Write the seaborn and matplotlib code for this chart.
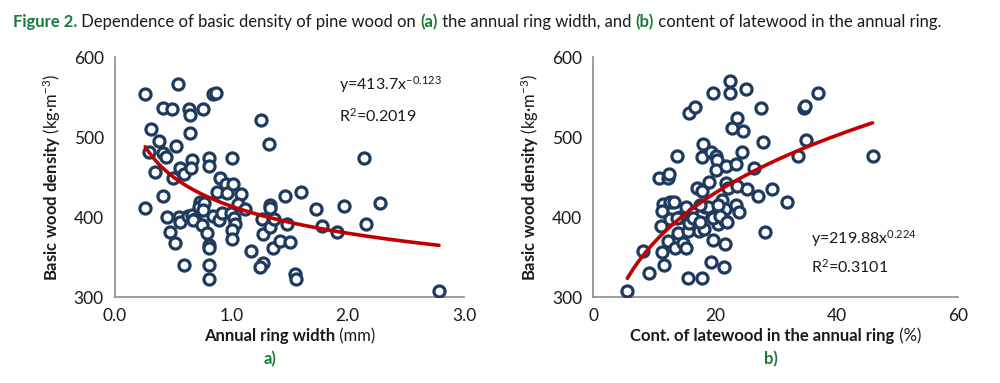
import numpy as np
import pandas as pd
import matplotlib
matplotlib.use("Agg")
import matplotlib.pyplot as plt
import seaborn as sns

# ---------------- data ----------------
ring_width = [0.26, 0.26, 0.31, 0.29, 0.345, 0.38, 0.415, 0.49, 0.41, 0.44, 0.41, 0.445, 0.47, 0.515,
              0.495, 0.525, 0.545, 0.56, 0.595, 0.55, 0.56, 0.595, 0.64, 0.645, 0.645, 0.66, 0.655,
              0.625, 0.66, 0.685, 0.67, 0.76, 0.73, 0.725, 0.765, 0.76, 0.745, 0.795, 0.81, 0.81,
              0.805, 0.81, 0.805, 0.81, 0.84, 0.87, 0.845, 0.875, 0.89, 0.90, 0.92, 0.955, 0.965,
              1.01, 1.015, 1.0, 1.02, 1.035, 1.01, 1.01, 1.08, 1.06, 1.12, 1.17, 1.255, 1.26, 1.27,
              1.27, 1.25, 1.32, 1.335, 1.335, 1.33, 1.365, 1.36, 1.415, 1.46, 1.48, 1.50, 1.55,
              1.56, 1.60, 1.73, 1.78, 1.91, 1.97, 2.14, 2.16, 2.28, 2.785]
density_a = [554, 412, 510, 481, 457, 495, 537, 536, 480, 475, 426, 400, 382, 368,
             449, 489, 567, 462, 454, 400, 394, 340, 535, 528, 506, 471, 461,
             401, 403, 398, 396, 536, 419, 413, 418, 409, 390, 380, 365, 362,
             474, 464, 340, 323, 554, 556, 401, 432, 396, 449, 405, 441, 430,
             474, 441, 405, 399, 391, 384, 373, 429, 417, 410, 357, 522, 398, 379,
             343, 337, 492, 415, 411, 388, 398, 361, 370, 426, 391, 369, 329,
             323, 432, 410, 389, 382, 414, 474, 392, 418, 308]

latewood = [5.6, 8.1, 9.1, 10.8, 12.3, 12.4, 11.5, 11.3, 11.1, 11.3, 11.7, 12.6, 13.2, 12.6, 12.3,
            13.4, 13.8, 14.0, 14.2, 14.8, 15.3, 15.3, 15.5, 15.8, 15.7, 16.7, 15.6, 17.0, 16.4,
            17.4, 17.8, 18.1, 17.8, 17.8, 18.2, 17.8, 18.4, 19.0, 19.4, 19.7, 19.3, 20.1, 20.3,
            20.1, 19.7, 19.3, 20.5, 20.5, 21.2, 21.8, 21.8, 21.7, 21.7, 21.6, 21.5, 22.4, 22.4,
            22.2, 22.8, 23.6, 23.5, 23.6, 23.4, 23.9, 24.6, 24.5, 25.1, 25.3, 26.4, 27.1, 27.5,
            27.9, 28.2, 29.3, 31.9, 33.6, 34.6, 34.8, 35.0, 36.9, 45.9,
            13.7, 16.4, 17.5, 18.9, 20.5, 19.7, 20.8, 21.9, 17.5]
density_b = [308, 358, 330, 449, 449, 454, 416, 408, 389, 356, 340, 419, 419, 398, 370,
             362, 476, 380, 400, 368, 413, 362, 383, 393, 531, 538, 324, 436, 405,
             383, 433, 491, 475, 405, 385, 324, 413, 444, 411, 556, 482, 476, 472,
             459, 372, 344, 402, 391, 421, 443, 464, 410, 395, 366, 337, 570, 556,
             437, 512, 524, 466, 439, 415, 406, 508, 482, 560, 435, 462, 426, 537,
             494, 381, 435, 419, 476, 537, 539, 497, 556, 476,
             399, 399, 394, 413, 415, 399, 401, 394, 415]

# trend line equations as printed on the chart
fit_a = (413.7, -0.123)
fit_b = (219.88, 0.224)
range_a = (0.26, 2.785)
range_b = (5.6, 45.9)

x_ticks_a = [0.0, 1.0, 2.0, 3.0]
x_ticks_b = [0, 20, 40, 60]
y_ticks = [300, 400, 500, 600]

# ---------------- style ----------------
sns.set_theme(style="white")
FONT = "Lato"
plt.rcParams["font.family"] = [FONT, "DejaVu Sans"]
plt.rcParams["mathtext.fontset"] = "custom"
plt.rcParams["mathtext.rm"] = FONT
plt.rcParams["mathtext.bf"] = FONT + ":bold"
plt.rcParams["mathtext.it"] = FONT + ":italic"

GREEN = "#1b7a3c"
NAVY = "#1f3a5f"
RED = "#c00000"
SPINE = "#8c8c8c"
TXT = "#1a1a1a"

fig = plt.figure(figsize=(10, 3.83), dpi=100)
ax_a = fig.add_axes([0.115, 0.2245, 0.349, 0.6255])
ax_b = fig.add_axes([0.5933, 0.2245, 0.365, 0.6255])
renderer = fig.canvas.get_renderer()

df_a = pd.DataFrame({"x": ring_width, "y": density_a})
df_b = pd.DataFrame({"x": latewood, "y": density_b})


def pieces_text(xc, y, parts, size, ha_center=True):
    """Place a row of text pieces (text, colour, weight) centred at xc (figure coords)."""
    objs = []
    total = 0.0
    for txt, col, wt in parts:
        t = fig.text(0, y, txt, fontsize=size, color=col, fontweight=wt, va="center", ha="left")
        w = t.get_window_extent(renderer=renderer).width / fig.bbox.width
        objs.append((t, w))
        total += w
    x = xc - total / 2 if ha_center else xc
    for t, w in objs:
        t.set_x(x)
        x += w


def draw(ax, df, fit, rng, xlim, xticks, xfmt):
    sns.scatterplot(data=df, x="x", y="y", ax=ax, marker="o", s=64,
                    facecolor="white", edgecolor=NAVY, linewidth=2.3, zorder=3, legend=False)
    xs = np.linspace(rng[0], rng[1], 200)
    curve = pd.DataFrame({"x": xs, "y": fit[0] * xs ** fit[1]})
    sns.lineplot(data=curve, x="x", y="y", ax=ax, color=RED, linewidth=2.6, zorder=4)
    ax.set_xlim(*xlim)
    ax.set_ylim(300, 600)
    ax.set_xticks(xticks)
    ax.set_xticklabels([xfmt.format(v) for v in xticks])
    ax.set_yticks(y_ticks)
    for s in ["top", "right"]:
        ax.spines[s].set_visible(False)
    for s in ["left", "bottom"]:
        ax.spines[s].set_color(SPINE)
        ax.spines[s].set_linewidth(1.2)
    ax.tick_params(axis="both", which="major", direction="out", length=6, width=1.2,
                   color=SPINE, labelsize=12.5, labelcolor=TXT, pad=2)
    ax.set_xlabel("")
    ax.set_ylabel(r"$\bf{Basic\ wood\ density}$ (kg·m$^{-3}$)", fontsize=12, color=TXT, labelpad=8)
    ax.set_facecolor("white")


draw(ax_a, df_a, fit_a, range_a, (0, 3.0), x_ticks_a, "{:.1f}")
draw(ax_b, df_b, fit_b, range_b, (0, 60), x_ticks_b, "{:d}")

# x axis labels (bold + normal parts)
XL_Y = 1 - 336 / 383
pieces_text(0.2895, XL_Y, [("Annual ring width", TXT, "bold"), (" (mm)", TXT, "normal")], 12)
pieces_text(0.7758, XL_Y, [("Cont. of latewood in the annual ring", TXT, "bold"),
                           (" (%)", TXT, "normal")], 12)

# equations
fig.text(0.339, 0.778, r"y=413.7x$^{-0.123}$", fontsize=11.5, color=TXT, va="center")
fig.text(0.339, 0.697, r"R$^{2}$=0.2019", fontsize=11.5, color=TXT, va="center")
fig.text(0.811, 0.378, r"y=219.88x$^{0.224}$", fontsize=11.5, color=TXT, va="center")
fig.text(0.811, 0.303, r"R$^{2}$=0.3101", fontsize=11.5, color=TXT, va="center")

# sub labels
fig.text(0.270, 0.062, "a)", fontsize=12, color=GREEN, fontweight="bold", ha="center", va="center")
fig.text(0.771, 0.062, "b)", fontsize=12, color=GREEN, fontweight="bold", ha="center", va="center")

# title built from pieces
title_parts = [("Figure 2.", GREEN, "bold"),
               (" Dependence of basic density of pine wood on ", TXT, "normal"),
               ("(a)", GREEN, "bold"),
               (" the annual ring width, and ", TXT, "normal"),
               ("(b)", GREEN, "bold"),
               (" content of latewood in the annual ring.", TXT, "normal")]
pieces_text(0.013, 0.942, title_parts, 12, ha_center=False)

fig.savefig("out.png", dpi=100, facecolor="white")
